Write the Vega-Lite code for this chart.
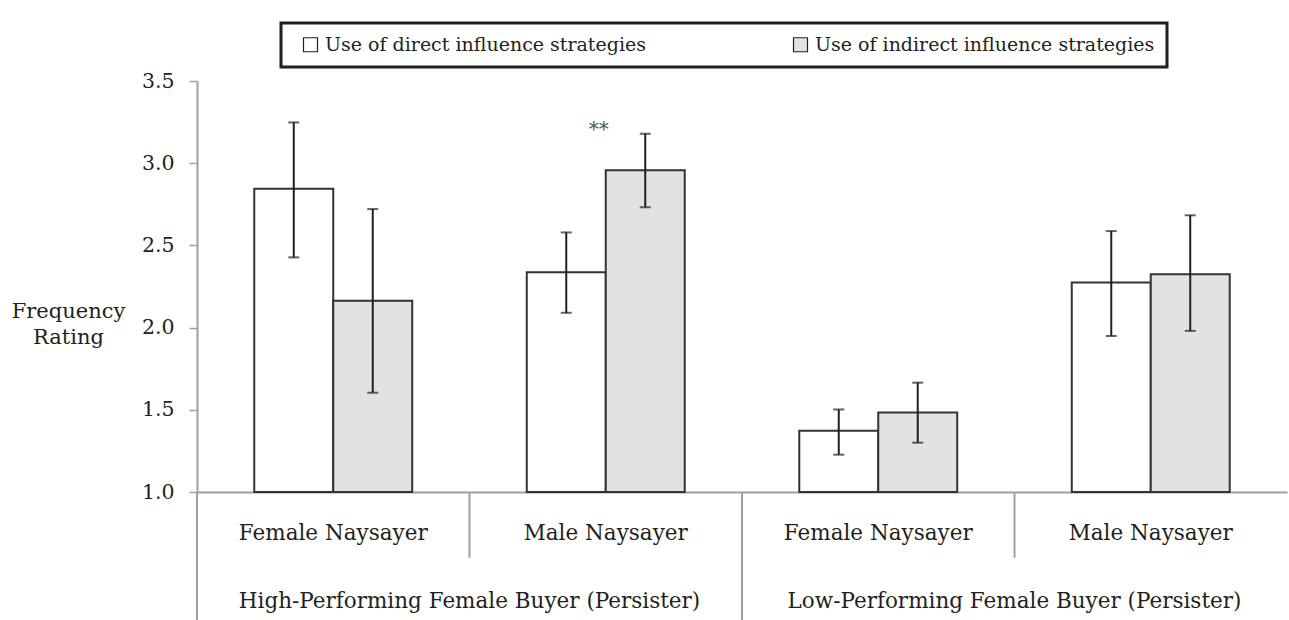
{
  "$schema": "https://vega.github.io/schema/vega-lite/v6.json",
  "autosize": {"type": "none"},
  "padding": {"left": 197, "top": 81, "right": 2, "bottom": 128},
  "width": 1090,
  "height": 411,
  "background": "white",
  "config": {
    "view": {"stroke": null},
    "font": "DejaVu Serif",
    "text": {"font": "DejaVu Serif", "fontSize": 21.5, "color": "#231f20"},
    "legend": {"strokeWidth": 3}
  },
  "datasets": {
    "bars": [
      {"cat": "HF", "strategy": "Use of direct influence strategies", "mean": 2.845, "lo": 2.427, "hi": 3.248},
      {"cat": "HF", "strategy": "Use of indirect influence strategies", "mean": 2.163, "lo": 1.604, "hi": 2.721},
      {"cat": "HM", "strategy": "Use of direct influence strategies", "mean": 2.337, "lo": 2.09, "hi": 2.579},
      {"cat": "HM", "strategy": "Use of indirect influence strategies", "mean": 2.957, "lo": 2.732, "hi": 3.179},
      {"cat": "LF", "strategy": "Use of direct influence strategies", "mean": 1.372, "lo": 1.227, "hi": 1.502},
      {"cat": "LF", "strategy": "Use of indirect influence strategies", "mean": 1.484, "lo": 1.30, "hi": 1.665},
      {"cat": "LM", "strategy": "Use of direct influence strategies", "mean": 2.274, "lo": 1.949, "hi": 2.587},
      {"cat": "LM", "strategy": "Use of indirect influence strategies", "mean": 2.325, "lo": 1.98, "hi": 2.683}
    ],
    "dividers": [
      {"cat": "HF", "top": 1, "bottom": 0.15},
      {"cat": "HM", "top": 1, "bottom": 0.6},
      {"cat": "LF", "top": 1, "bottom": 0.15},
      {"cat": "LM", "top": 1, "bottom": 0.6}
    ],
    "inner": [
      {"cat": "HF", "label": "Female Naysayer", "y": 0.745},
      {"cat": "HM", "label": "Male Naysayer", "y": 0.745},
      {"cat": "LF", "label": "Female Naysayer", "y": 0.745},
      {"cat": "LM", "label": "Male Naysayer", "y": 0.745}
    ],
    "outer": [
      {"cat": "HM", "label": "High-Performing Female Buyer (Persister)", "y": 0.33},
      {"cat": "LM", "label": "Low-Performing Female Buyer (Persister)", "y": 0.33}
    ],
    "sig": [
      {"cat": "HM", "label": "**", "y": 3.165}
    ]
  },
  "layer": [
    {
      "data": {"name": "bars"},
      "mark": {"type": "bar", "stroke": "#333333", "strokeWidth": 2},
      "encoding": {
        "x": {
          "field": "cat", "type": "nominal", "sort": ["HF", "HM", "LF", "LM"],
          "scale": {"domain": ["HF", "HM", "LF", "LM"], "paddingInner": 0, "paddingOuter": 0},
          "axis": {"labels": false, "ticks": false, "title": null, "domainColor": "#a0a0a0", "domainWidth": 2}
        },
        "xOffset": {
          "field": "strategy", "type": "nominal",
          "scale": {"paddingInner": 0, "paddingOuter": 0.725}
        },
        "y": {
          "field": "mean", "type": "quantitative",
          "scale": {"domain": [1, 3.5], "nice": false, "zero": false},
          "axis": {
            "values": [1, 1.5, 2, 2.5, 3, 3.5], "format": ".1f", "grid": false,
            "domainColor": "#a0a0a0", "domainWidth": 2, "tickColor": "#a0a0a0", "tickWidth": 1.5, "tickSize": 8,
            "labelFont": "DejaVu Serif", "labelFontSize": 20.5, "labelColor": "#231f20", "labelPadding": 15,
            "title": ["Frequency", "Rating"], "titleAngle": 0, "titleAlign": "center", "titleBaseline": "alphabetic",
            "titleX": -129, "titleY": 236, "titleFont": "DejaVu Serif", "titleFontSize": 21, "titleFontWeight": "normal",
            "titleColor": "#231f20", "titleLineHeight": 26
          }
        },
        "y2": {"datum": 1},
        "color": {
          "field": "strategy", "type": "nominal",
          "scale": {"domain": ["Use of direct influence strategies", "Use of indirect influence strategies"], "range": ["#ffffff", "#e1e2e4"]},
          "legend": {
            "orient": "none", "legendX": 84, "legendY": -58, "direction": "horizontal", "title": null,
            "symbolType": "square", "symbolSize": 196, "symbolStrokeColor": "#231f20", "symbolStrokeWidth": 1.2,
            "symbolOpacity": 1, "symbolOffset": 8,
            "labelFont": "DejaVu Serif", "labelFontSize": 19, "labelColor": "#231f20", "labelOffset": 5,
            "labelLimit": 500,
            "strokeColor": "#231f20", "padding": 12, "columnPadding": 137
          }
        }
      }
    },
    {
      "data": {"name": "bars"},
      "mark": {"type": "rule", "color": "#231f20", "strokeWidth": 2},
      "encoding": {
        "x": {"field": "cat", "type": "nominal"},
        "xOffset": {"field": "strategy", "type": "nominal"},
        "y": {"field": "lo", "type": "quantitative"},
        "y2": {"field": "hi"}
      }
    },
    {
      "data": {"name": "bars"},
      "mark": {"type": "tick", "color": "#231f20", "size": 11, "thickness": 2, "orient": "horizontal"},
      "encoding": {
        "x": {"field": "cat", "type": "nominal"},
        "xOffset": {"field": "strategy", "type": "nominal"},
        "y": {"field": "lo", "type": "quantitative"}
      }
    },
    {
      "data": {"name": "bars"},
      "mark": {"type": "tick", "color": "#231f20", "size": 11, "thickness": 2, "orient": "horizontal"},
      "encoding": {
        "x": {"field": "cat", "type": "nominal"},
        "xOffset": {"field": "strategy", "type": "nominal"},
        "y": {"field": "hi", "type": "quantitative"}
      }
    },
    {
      "data": {"name": "sig"},
      "mark": {"type": "text", "dx": -7, "baseline": "alphabetic", "fontSize": 20, "color": "#555555"},
      "encoding": {
        "x": {"field": "cat", "type": "nominal"},
        "y": {"field": "y", "type": "quantitative"},
        "text": {"field": "label"}
      }
    },
    {
      "data": {"name": "dividers"},
      "mark": {"type": "rule", "color": "#a0a0a0", "strokeWidth": 2},
      "encoding": {
        "x": {"field": "cat", "type": "nominal", "bandPosition": 0},
        "y": {"field": "top", "type": "quantitative"},
        "y2": {"field": "bottom"}
      }
    },
    {
      "data": {"name": "inner"},
      "mark": {"type": "text", "baseline": "middle", "align": "center"},
      "encoding": {
        "x": {"field": "cat", "type": "nominal"},
        "y": {"field": "y", "type": "quantitative"},
        "text": {"field": "label"}
      }
    },
    {
      "data": {"name": "outer"},
      "mark": {"type": "text", "baseline": "middle", "align": "center"},
      "encoding": {
        "x": {"field": "cat", "type": "nominal", "bandPosition": 0},
        "y": {"field": "y", "type": "quantitative"},
        "text": {"field": "label"}
      }
    }
  ]
}
